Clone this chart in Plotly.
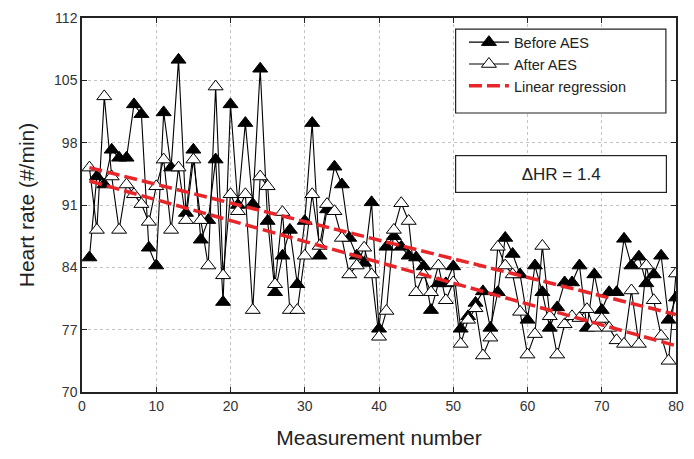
import plotly.graph_objects as go

measurement = list(range(1, 81))

before_aes = [85.1, 94.2, 93.3, 97.2, 96.3, 96.3, 102.3, 101.2, 86.2, 84.2,
              101.4, 95.2, 107.3, 90.1, 97.2, 87.1, 89.3, 96.1, 80.1, 102.3,
              91.0, 100.2, 91.1, 106.3, 89.2, 81.2, 85.3, 88.2, 82.1, 89.2,
              100.2, 85.3, 90.5, 95.3, 93.3, 87.3, 85.3, 84.5, 91.3, 77.1,
              86.3, 87.5, 86.3, 85.3, 85.1, 84.1, 79.2, 82.2, 82.2, 84.1,
              77.1, 78.5, 80.0, 81.3, 77.2, 81.2, 87.3, 85.5, 83.2, 78.1,
              84.2, 81.2, 77.2, 79.5, 82.3, 82.3, 84.2, 77.2, 83.2, 79.2,
              81.2, 81.2, 87.2, 84.2, 85.2, 82.2, 83.2, 85.3, 78.1, 80.6]

after_aes = [95.2, 88.2, 103.2, 94.2, 88.2, 93.3, 92.2, 91.1, 89.1, 93.1,
             96.1, 88.2, 95.2, 89.3, 96.1, 89.3, 84.2, 104.3, 83.1, 92.2,
             90.3, 92.2, 79.2, 94.2, 93.1, 82.1, 90.2, 79.2, 79.2, 85.3,
             92.2, 86.4, 91.1, 90.3, 87.3, 83.2, 84.2, 86.2, 83.2, 76.2,
             79.1, 88.2, 91.2, 89.2, 81.2, 83.2, 81.2, 84.2, 80.3, 82.3,
             75.4, 78.1, 79.4, 74.1, 76.1, 86.3, 84.2, 83.2, 79.0, 74.2,
             76.5, 86.4, 78.5, 74.2, 77.6, 78.5, 78.3, 79.3, 77.2, 78.2,
             77.2, 75.8, 75.4, 81.4, 75.4, 84.2, 80.3, 76.3, 73.5, 83.3]

reg_x = [1, 80]
reg_before = [95.2, 78.7]
reg_after = [93.7, 75.2]

x_ticks = [0, 10, 20, 30, 40, 50, 60, 70, 80]
y_ticks = [70, 77, 84, 91, 98, 105, 112]

FONT = "Arial, Liberation Sans, sans-serif"
RED = "#e8262a"

fig = go.Figure()
fig.add_trace(go.Scatter(
    x=measurement, y=before_aes, mode="lines+markers", name="Before AES",
    line=dict(color="black", width=1.1),
    marker=dict(symbol="triangle-up", size=13, color="black",
                line=dict(color="black", width=1))))
fig.add_trace(go.Scatter(
    x=measurement, y=after_aes, mode="lines+markers", name="After AES",
    line=dict(color="black", width=1.1),
    marker=dict(symbol="triangle-up", size=13, color="white",
                line=dict(color="black", width=1))))
fig.add_trace(go.Scatter(
    x=reg_x, y=reg_before, mode="lines", name="Linear regression",
    line=dict(color=RED, width=3.5, dash="13px,5px")))
fig.add_trace(go.Scatter(
    x=reg_x, y=reg_after, mode="lines", name="Linear regression",
    showlegend=False,
    line=dict(color=RED, width=3.5, dash="13px,5px")))

axis_common = dict(
    showline=True, linecolor="#222", linewidth=1.5, mirror="ticks",
    ticks="inside", ticklen=5, tickcolor="#222", tickwidth=1,
    showgrid=True, gridcolor="#c4c4c4", griddash="dot", gridwidth=1,
    zeroline=False, tickfont=dict(family=FONT, size=14, color="#333"),
)

fig.update_xaxes(range=[0, 80], tickvals=x_ticks,
                 title=dict(text="Measurement number", standoff=18,
                            font=dict(family=FONT, size=21, color="#222")),
                 **axis_common)
fig.update_yaxes(range=[70, 112], tickvals=y_ticks,
                 title=dict(text="Heart rate (#/min)", standoff=14,
                            font=dict(family=FONT, size=21, color="#222")),
                 **axis_common)

# legend frame
fig.add_shape(type="rect", xref="paper", yref="paper",
              x0=0.629, x1=0.983, y0=0.746, y1=0.97,
              line=dict(color="#222", width=1.2), fillcolor="white", layer="above")

fig.add_annotation(
    xref="paper", yref="paper", x=0.806, y=0.584, xanchor="center", yanchor="middle",
    text="ΔHR = 1.4", showarrow=False, width=206, height=32,
    font=dict(family=FONT, size=17, color="#222"),
    bordercolor="#222", borderwidth=1.2, bgcolor="white", borderpad=2)

fig.update_layout(
    width=694, height=459,
    margin=dict(l=82, r=14, t=10, b=67),
    paper_bgcolor="white", plot_bgcolor="white",
    showlegend=True,
    legend=dict(x=0.643, y=0.978, xanchor="left", yanchor="top",
                bgcolor="rgba(0,0,0,0)", borderwidth=0,
                font=dict(family=FONT, size=14.5, color="#222"),
                tracegroupgap=0, itemwidth=40),
)

fig.write_html("out.html")
